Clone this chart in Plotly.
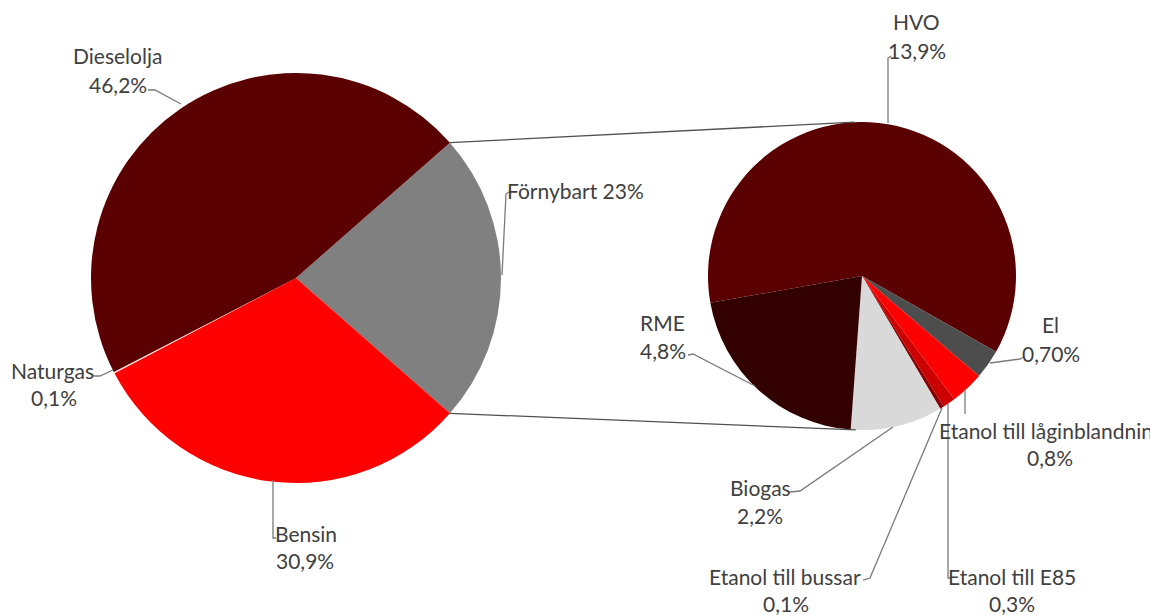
import math
import plotly.graph_objects as go

# Canvas size (px)
W, H = 1150, 615

# Main pie: fuel shares of road transport energy
main_labels = ["Förnybart", "Bensin", "Naturgas", "Dieselolja"]
main_values = [23.0, 30.9, 0.1, 46.2]
main_decimals = [0, 1, 1, 1]
main_colors = ["#808080", "#ff0000", "#f2dcdb", "#5a0000"]

# Secondary pie: breakdown of the renewable share
renew_labels = ["HVO", "El", "Etanol till låginblandning", "Etanol till E85",
                "Etanol till bussar", "Biogas", "RME"]
renew_values = [13.9, 0.70, 0.8, 0.3, 0.1, 2.2, 4.8]
renew_decimals = [1, 2, 1, 1, 1, 1, 1]
renew_colors = ["#5a0000", "#4d4d4d", "#ff0000", "#cc0000", "#8b0000", "#d9d9d9", "#330000"]

TEXT_COLOR = "#404040"
LINE_COLOR = "#7a7a7a"
FONT = "Lato"
FONT_SIZE = 21

# Pie geometry in pixels: centre and radius
C1, R1 = (296, 278), 205
C2, R2 = (862, 276), 154


def fmt(v, d):
    return f"{v:.{d}f}".replace(".", ",") + "%"


def domain(c, r):
    return dict(x=[(c[0] - r) / W, (c[0] + r) / W],
                y=[1 - (c[1] + r) / H, 1 - (c[1] - r) / H])


def px(x, y):
    return x / W, 1 - y / H


# The renewable slice is centred on 3 o'clock; plotly rotation is clockwise from 12
half_other = 0.5 * 360 * main_values[0] / sum(main_values)
rot_main = 90 - half_other
rot_renew = -100

fig = go.Figure()
fig.add_trace(go.Pie(
    labels=main_labels, values=main_values, sort=False, direction="clockwise",
    rotation=rot_main, marker=dict(colors=main_colors, line=dict(width=0)),
    textinfo="none", hoverinfo="label+percent", showlegend=False,
    domain=domain(C1, R1), name="",
))
fig.add_trace(go.Pie(
    labels=renew_labels, values=renew_values, sort=False, direction="clockwise",
    rotation=rot_renew, marker=dict(colors=renew_colors, line=dict(width=0)),
    textinfo="none", hoverinfo="label+value", showlegend=False,
    domain=domain(C2, R2), name="",
))

shapes = []

# Connector lines: edges of the renewable slice, tangent to the secondary pie
for sign in (1, -1):
    a = math.radians(sign * half_other)
    p = (C1[0] + R1 * math.cos(a), C1[1] - R1 * math.sin(a))
    dx, dy = p[0] - C2[0], -(p[1] - C2[1])
    d = math.hypot(dx, dy)
    phi = math.atan2(dy, dx)
    t = phi - sign * math.acos(R2 / d)
    q = (C2[0] + R2 * math.cos(t), C2[1] - R2 * math.sin(t))
    x0, y0 = px(*p)
    x1, y1 = px(*q)
    shapes.append(dict(type="line", xref="paper", yref="paper", x0=x0, y0=y0,
                       x1=x1, y1=y1, line=dict(color="#505050", width=1.3)))

# Label placement: (name centre, value centre, leader polyline) in pixels
label_pos = {
    "Dieselolja": ((117, 55), (118, 85), [(148, 90), (155, 90), (181, 104)]),
    "Naturgas": ((52, 370), (54, 397), [(93, 376), (100, 376), (113, 370)]),
    "Bensin": ((306, 533), (305, 560), [(276, 538), (273, 538), (273, 480)]),
    "HVO": ((916, 22), (917, 50), [(891, 56), (888, 58), (888, 123)]),
    "RME": ((662, 322), (663, 350), [(688, 355), (693, 354), (755, 386)]),
    "El": ((1050, 324), (1051, 353), [(1024, 357), (1020, 359), (990, 363)]),
    "Etanol till låginblandning": ((937, 430), (1050, 457), [(965, 414), (965, 389)]),
    "Biogas": ((760, 487), (760, 515), [(790, 492), (800, 491), (893, 427)]),
    "Etanol till bussar": ((785, 576), (786, 603), [(863, 580), (870, 578), (942, 408)]),
    "Etanol till E85": ((1012, 576), (1012, 603), [(951, 578), (948, 578), (948, 404)]),
}

annotations = []


def text(x, y, s, anchor="center"):
    xp, yp = px(x, y)
    annotations.append(dict(x=xp, y=yp, xref="paper", yref="paper", text=s,
                            showarrow=False, xanchor=anchor, yanchor="middle",
                            font=dict(family=FONT, size=FONT_SIZE, color=TEXT_COLOR)))


def leader(points):
    path = "M " + " L ".join(f"{px(x, y)[0]},{px(x, y)[1]}" for x, y in points)
    shapes.append(dict(type="path", xref="paper", yref="paper", path=path,
                       line=dict(color=LINE_COLOR, width=1.3)))


labels = main_labels + renew_labels
values = main_values + renew_values
decimals = main_decimals + renew_decimals
for name, v, d in zip(labels, values, decimals):
    if name == "Förnybart":
        text(575, 190, f"{name} {fmt(v, d)}")
        leader([(509, 192), (506, 194), (502, 275)])
        continue
    name_xy, val_xy, pts = label_pos[name]
    anchor = "left" if name == "Etanol till låginblandning" else "center"
    text(*name_xy, name, anchor)
    text(*val_xy, fmt(v, d))
    leader(pts)

fig.update_layout(
    width=W, height=H,
    margin=dict(l=0, r=0, t=0, b=0),
    paper_bgcolor="white", plot_bgcolor="white",
    shapes=shapes, annotations=annotations,
)

fig.write_html("out.html")
